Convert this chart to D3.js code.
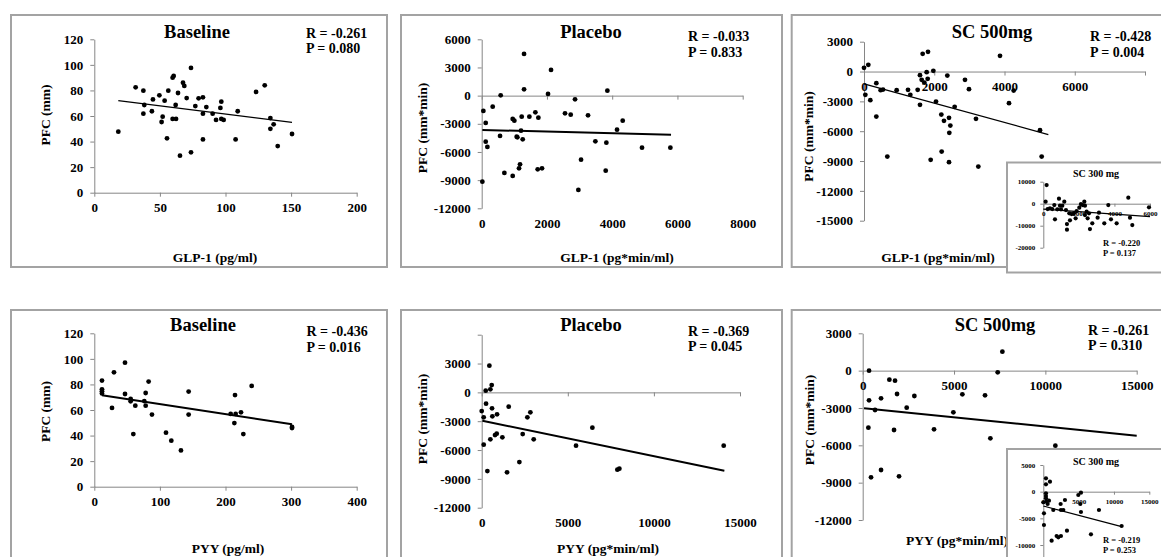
<!DOCTYPE html>
<html>
<head>
<meta charset="utf-8">
<script src="https://cdn.jsdelivr.net/npm/d3@7"></script>
<style>
    body { margin: 0; background: #fff; }
    svg text { font-family: "Liberation Serif", "Times New Roman", serif; font-weight: bold; fill: #000; }
</style>
</head>
<body>
<div id="chart"></div>
<script>
// ---- data ----
var glpBaseline = [[18.3,47.7],[31.5,82.4],[37.4,79.8],[38.1,68.6],[37.4,61.8],[44.7,73],[43.9,63.7],[49.6,76.2],[53.6,72],[52.1,59.5],[51.3,55.3],[55.4,42.5],[56.4,79.8],[59.7,90],[60.5,91.3],[59.7,57.7],[62.3,57.7],[62,68.6],[63.8,78],[65.3,29],[67.6,86],[68.6,83.5],[70.4,74],[73.7,97.6],[73.7,31.6],[77,67.8],[79.5,73.8],[82.8,74.6],[82.8,61.8],[82.8,41.7],[85.4,67],[90.2,61.8],[92.8,56.9],[96.1,66.3],[96.8,71.2],[96.8,57.7],[98.6,56.9],[107.7,41.7],[109.3,63.7],[123.3,78.8],[129.9,84],[134.2,58.4],[134.2,50],[136.7,53.5],[139.8,36.5],[150.7,45.9]];
var glpBaselineFit = [[18.3,72],[150.7,55]];

var glpPlacebo = [[20,-9160],[51,-1633],[123,-2911],[123,-4899],[174,-5467],[337,-1172],[582,35],[562,-4296],[695,-8237],[950,-2485],[1001,-2663],[950,-8556],[1073,-4367],[1093,-4438],[1144,-7740],[1175,-7314],[1205,-3728],[1226,-2237],[1257,-4651],[1298,4438],[1298,675],[1461,-2237],[1645,-1775],[1716,-7846],[1737,-2343],[1849,-7740],[2033,178],[2125,2734],[2554,-1882],[2728,-2024],[2861,-390],[2963,-10047],[3045,-6817],[3259,-2095],[3484,-4864],[3821,-5006],[3801,-7988],[3852,533],[4148,-3621],[4322,-2663],[4914,-5538],[5783,-5538]];
var glpPlaceboFit = [[20,-3657],[5803,-4154]];

var glpSc500 = [[0,369],[123,670],[38,-2346],[180,-2883],[351,-1173],[351,-4525],[474,-1877],[541,-1810],[664,-8547],[930,-1877],[1253,-1844],[1319,-2346],[1528,-1844],[1594,-369],[1594,-3352],[1642,-838],[1670,1777],[1718,-1106],[1784,-67],[1813,-737],[1822,1978],[1898,-8883],[1974,67],[2050,-3017],[2201,-4324],[2211,-8045],[2277,-4961],[2372,-402],[2420,-4659],[2420,-9117],[2429,-6168],[2458,-5430],[2581,-3553],[2875,-838],[2989,-1777],[3188,-4760],[3255,-9553],[3872,1575],[4128,-3184],[4261,-1910],[5011,-5899],[5058,-8547]];
var glpSc500Fit = [[0,-1240],[5248,-6335]];

var glpSc300 = [[187,8485],[131,909],[244,-2424],[375,-2121],[506,-2424],[619,-606],[656,-7121],[787,-2576],[881,2273],[937,-909],[994,-2576],[1068,-909],[1181,909],[1275,-2879],[1331,-11818],[1331,-9242],[1500,-7576],[1462,-4394],[1593,-4697],[1724,-4394],[1874,-3333],[1818,-6667],[2024,-1818],[2118,-152],[2212,-606],[2306,909],[2343,-909],[2343,-5152],[2437,-3636],[2493,-6667],[2568,-4394],[2624,-11515],[2755,-8939],[3055,-6364],[3130,-4091],[3430,-8939],[3655,-606],[3805,-7121],[4124,-8939],[4780,2727],[4874,-6364],[5005,-9697],[5942,-1667]];
var glpSc300Fit = [[0,-2424],[6000,-5909]];

var pyyBaseline = [[11.7,83],[11.7,76.2],[11.7,74.6],[11.7,73],[27,61.6],[30,89.5],[46.8,97],[46.8,72.5],[55.4,68.6],[55.4,66.8],[59.5,41.2],[62.5,63.4],[76.2,67],[78.3,73.3],[78.3,63.4],[82.8,82.2],[87.9,56.4],[109.3,42.3],[117.4,36],[132.1,28.4],[143.8,74.4],[143.8,56.4],[207.9,56.9],[214.5,71.7],[213.5,49.8],[215.5,56.9],[223.6,58.2],[227.2,41.2],[239.9,78.8],[301.4,45.9],[301.4,46.7]];
var pyyBaselineFit = [[11.7,71.5],[301.4,48.8]];

var pyyPlacebo = [[0,-1942],[116,-2601],[116,-5445],[232,173],[252,-1179],[329,-8185],[445,2775],[503,312],[581,763],[600,-1665],[619,-2497],[503,-4890],[774,-4439],[891,-2289],[871,-4301],[1200,-4682],[1471,-8324],[1568,-1491],[2187,-7249],[2381,-4335],[2652,-2601],[2826,-2081],[3020,-4890],[5478,-5549],[6427,-3676],[7879,-8046],[7995,-7942],[14054,-5549]];
var pyyPlaceboFit = [[39,-2948],[14092,-8150]];

var pyySc500 = [[347,0],[310,-4580],[347,-2384],[456,-8571],[675,-3161],[1004,-2223],[1004,-7982],[1460,-723],[1770,-804],[1880,-1875],[1989,-8491],[1715,-4768],[2409,-2973],[2828,-2036],[3905,-4714],[4964,-3348],[5456,-1902],[6697,-1982],[6989,-5438],[7391,-134],[7646,1527],[10547,-6027]];
var pyySc500Fit = [[73,-3027],[15000,-5223]];

var pyySc300 = [[0,-2000],[94,-4063],[94,-6250],[377,2500],[377,1375],[377,-313],[377,-813],[377,-1250],[472,-1875],[613,-2313],[943,1875],[802,-1688],[1179,-9188],[1415,-3438],[1887,-8313],[2123,-8563],[2500,-8313],[2453,-2313],[2830,-3438],[2500,-3438],[3066,-1563],[3349,-7313],[4953,-625],[5236,-2313],[5330,-188],[5330,-3813],[6745,-8000],[7877,-3438],[11085,-6438]];
var pyySc300Fit = [[0,-2688],[11085,-6563]];

// tick values
var pfcMmTicks = [0, 20, 40, 60, 80, 100, 120];
var glpPgTicks = [0, 50, 100, 150, 200];
var pyyPgTicks = [0, 100, 200, 300, 400];
var glpAucTicks = [0, 2000, 4000, 6000, 8000];
var pyyAucTicks = [0, 5000, 10000, 15000];
var pfcAuc6Ticks = [-12000, -9000, -6000, -3000, 0, 3000, 6000];
var pfcAuc3Ticks = [-15000, -12000, -9000, -6000, -3000, 0, 3000];
var pfcAuc3bTicks = [-12000, -9000, -6000, -3000, 0, 3000];
var insetGlpYTicks = [-20000, -10000, 0, 10000];
var insetGlpXTicks = [0, 2000, 4000, 6000];
var insetPyyYTicks = [-10000, -5000, 0, 5000];

// stats text
var statsGlpBaseline = ["R = -0.261", "P = 0.080"];
var statsGlpPlacebo = ["R = -0.033", "P = 0.833"];
var statsGlpSc500 = ["R = -0.428", "P = 0.004"];
var statsGlpSc300 = ["R = -0.220", "P = 0.137"];
var statsPyyBaseline = ["R = -0.436", "P = 0.016"];
var statsPyyPlacebo = ["R = -0.369", "P = 0.045"];
var statsPyySc500 = ["R = -0.261", "P = 0.310"];
var statsPyySc300 = ["R = -0.219", "P = 0.253"];

// ---- layout ----
var W = 1161, H = 557;
var AXIS = "#868686", BORDER = "#a3a3a3";

var main = { tick: 4, pad: 7, xPad: 6, tickFont: 13, r: 2.4, titleFont: 18.5, statFont: 14, statGap: 15.5 };
var small = { tick: 3, pad: 5, xPad: 4, tickFont: 7, r: 2.1, titleFont: 10, statFont: 8.5, statGap: 10 };

var panels = [
    { s: main, box: [11, 15, 376, 252], data: glpBaseline, fit: glpBaselineFit, fitW: 1.3,
      xDomain: [0, 200], xRange: [94.3, 356.7], yDomain: [0, 120], yRange: [192.7, 39.3],
      xTicks: glpPgTicks, yTicks: pfcMmTicks,
      title: "Baseline", titlePos: [197, 32], stats: statsGlpBaseline, statsPos: [306, 33],
      yLabel: "PFC (mm)", yLabelPos: [45, 115], xLabel: "GLP-1 (pg/ml)", xLabelPos: [215, 257] },
    { s: main, box: [401, 15, 381, 252], data: glpPlacebo, fit: glpPlaceboFit, fitW: 2,
      xDomain: [0, 8000], xRange: [481.7, 742.7], yDomain: [-12000, 6000], yRange: [208.3, 39.3],
      xTicks: glpAucTicks, yTicks: pfcAuc6Ticks, xLow: true,
      title: "Placebo", titlePos: [591, 32], stats: statsGlpPlacebo, statsPos: [688, 36.5],
      yLabel: "PFC (mm*min)", yLabelPos: [422, 128], xLabel: "GLP-1 (pg*min/ml)", xLabelPos: [617, 257.5] },
    { s: main, box: [791.7, 15, 380, 252], data: glpSc500, fit: glpSc500Fit, fitW: 1.3,
      xDomain: [0, 8000], xRange: [864, 1145], yDomain: [-15000, 3000], yRange: [220.7, 41.7],
      xTicks: glpAucTicks, xHide: [8000], yTicks: pfcAuc3Ticks,
      title: "SC 500mg", titlePos: [992, 32], stats: statsGlpSc500, statsPos: [1090, 36.5],
      yLabel: "PFC (mm*min)", yLabelPos: [808, 136.5], xLabel: "GLP-1 (pg*min/ml)", xLabelPos: [938, 257] },
    { s: small, box: [1007, 162.5, 160, 110], data: glpSc300, fit: glpSc300Fit, fitW: 1.2,
      xDomain: [0, 6000], xRange: [1043.3, 1150], yDomain: [-20000, 10000], yRange: [247.7, 181.7],
      xTicks: insetGlpXTicks, yTicks: insetGlpYTicks,
      title: "SC 300 mg", titlePos: [1096, 173], stats: statsGlpSc300, statsPos: [1103, 243] },
    { s: main, box: [11, 310, 376, 260], data: pyyBaseline, fit: pyyBaselineFit, fitW: 2,
      xDomain: [0, 400], xRange: [94.3, 356.7], yDomain: [0, 120], yRange: [486.7, 333.3],
      xTicks: pyyPgTicks, yTicks: pfcMmTicks,
      title: "Baseline", titlePos: [203, 325], stats: statsPyyBaseline, statsPos: [306.5, 331.5],
      yLabel: "PFC (mm)", yLabelPos: [45, 411.5], xLabel: "PYY  (pg/ml)", xLabelPos: [228, 548] },
    { s: main, box: [401, 310, 381, 260], data: pyyPlacebo, fit: pyyPlaceboFit, fitW: 2,
      xDomain: [0, 15000], xRange: [481.7, 740], yDomain: [-12000, 6000], yRange: [507.7, 334.7],
      xTicks: pyyAucTicks, yTicks: pfcAuc6Ticks, yHide: [6000], xLow: true,
      title: "Placebo", titlePos: [591, 325], stats: statsPyyPlacebo, statsPos: [688, 331],
      yLabel: "PFC (mm*min)", yLabelPos: [422, 419], xLabel: "PYY  (pg*min/ml)", xLabelPos: [608, 548] },
    { s: main, box: [791.7, 310, 380, 260], data: pyySc500, fit: pyySc500Fit, fitW: 2,
      xDomain: [0, 15000], xRange: [862.7, 1136.7], yDomain: [-12000, 3000], yRange: [520, 333.3],
      xTicks: pyyAucTicks, yTicks: pfcAuc3bTicks,
      title: "SC 500mg", titlePos: [995, 325], stats: statsPyySc500, statsPos: [1088, 330],
      yLabel: "PFC (mm*min)", yLabelPos: [809, 420], xLabel: "PYY  (pg*min/ml)", xLabelPos: [957, 540.5] },
    { s: small, box: [1007, 449, 160, 120], data: pyySc300, fit: pyySc300Fit, fitW: 1.2,
      xDomain: [0, 15000], xRange: [1043.3, 1149.3], yDomain: [-15000, 5000], yRange: [571.7, 465],
      xTicks: pyyAucTicks, yTicks: insetPyyYTicks,
      title: "SC 300 mg", titlePos: [1096, 461], stats: statsPyySc300, statsPos: [1103, 539.5] }
];

var svg = d3.select("#chart").append("svg")
    .attr("width", W)
    .attr("height", H)
    .style("display", "block");

svg.append("rect").attr("width", W).attr("height", H).attr("fill", "#fff");

function styleAxis(sel, size) {
    sel.attr("font-family", null)
        .attr("font-size", size)
        .attr("color", AXIS);
    sel.selectAll("text").attr("fill", "#000");
}

function label(d) {
    return String(d);
}

function drawPanel(p) {
    var s = p.s;
    var g = svg.append("g");

    g.append("rect")
        .attr("x", p.box[0])
        .attr("y", p.box[1])
        .attr("width", p.box[2])
        .attr("height", p.box[3])
        .attr("fill", "#fff")
        .attr("stroke", BORDER)
        .attr("stroke-width", 2);

    var x = d3.scaleLinear().domain(p.xDomain).range(p.xRange);
    var y = d3.scaleLinear().domain(p.yDomain).range(p.yRange);

    // y axis crosses at x = 0
    var yAxis = g.append("g")
        .attr("transform", "translate(" + x(0) + ",0)")
        .call(d3.axisLeft(y)
            .tickValues(p.yTicks)
            .tickSize(s.tick)
            .tickSizeOuter(0)
            .tickPadding(s.pad)
            .tickFormat(function (d) {
                return (p.yHide && p.yHide.indexOf(d) >= 0) ? "" : label(d);
            }));
    styleAxis(yAxis, s.tickFont);

    // x axis line sits on y = 0
    var xAxis = g.append("g")
        .attr("transform", "translate(0," + y(0) + ")")
        .call(d3.axisBottom(x)
            .tickValues(p.xTicks)
            .tickSize(s.tick)
            .tickSizeOuter(0)
            .tickPadding(s.xPad)
            .tickFormat(function (d) {
                if (p.xLow) return "";
                return (p.xHide && p.xHide.indexOf(d) >= 0) ? "" : label(d);
            }));
    styleAxis(xAxis, s.tickFont);

    // labels placed at the bottom of the plot ("low" position)
    if (p.xLow) {
        var xLab = g.append("g")
            .attr("transform", "translate(0," + y(p.yDomain[0]) + ")")
            .call(d3.axisBottom(x)
                .tickValues(p.xTicks)
                .tickSize(s.tick)
                .tickPadding(s.xPad)
                .tickFormat(label));
        xLab.select(".domain").remove();
        xLab.selectAll("line").remove();
        styleAxis(xLab, s.tickFont);
    }

    // trend line
    var line = d3.line()
        .x(function (d) { return x(d[0]); })
        .y(function (d) { return y(d[1]); });

    g.append("path")
        .datum(p.fit)
        .attr("d", line)
        .attr("fill", "none")
        .attr("stroke", "#000")
        .attr("stroke-width", p.fitW);

    g.selectAll("circle")
        .data(p.data)
        .enter().append("circle")
        .attr("cx", function (d) { return x(d[0]); })
        .attr("cy", function (d) { return y(d[1]); })
        .attr("r", s.r)
        .attr("fill", "#000");

    g.append("text")
        .attr("x", p.titlePos[0])
        .attr("y", p.titlePos[1])
        .attr("text-anchor", "middle")
        .attr("dominant-baseline", "central")
        .attr("font-size", s.titleFont)
        .text(p.title);

    g.selectAll("text.stat")
        .data(p.stats)
        .enter().append("text")
        .attr("class", "stat")
        .attr("x", p.statsPos[0])
        .attr("y", function (d, i) { return p.statsPos[1] + i * s.statGap; })
        .attr("dominant-baseline", "central")
        .attr("font-size", s.statFont)
        .text(function (d) { return d; });

    if (p.yLabel) {
        g.append("text")
            .attr("transform", "translate(" + p.yLabelPos[0] + "," + p.yLabelPos[1] + ") rotate(-90)")
            .attr("text-anchor", "middle")
            .attr("dominant-baseline", "central")
            .attr("font-size", 13.5)
            .text(p.yLabel);
    }
    if (p.xLabel) {
        g.append("text")
            .attr("x", p.xLabelPos[0])
            .attr("y", p.xLabelPos[1])
            .attr("text-anchor", "middle")
            .attr("dominant-baseline", "central")
            .attr("font-size", 13.5)
            .text(p.xLabel);
    }
}

panels.forEach(drawPanel);
</script>
</body>
</html>
